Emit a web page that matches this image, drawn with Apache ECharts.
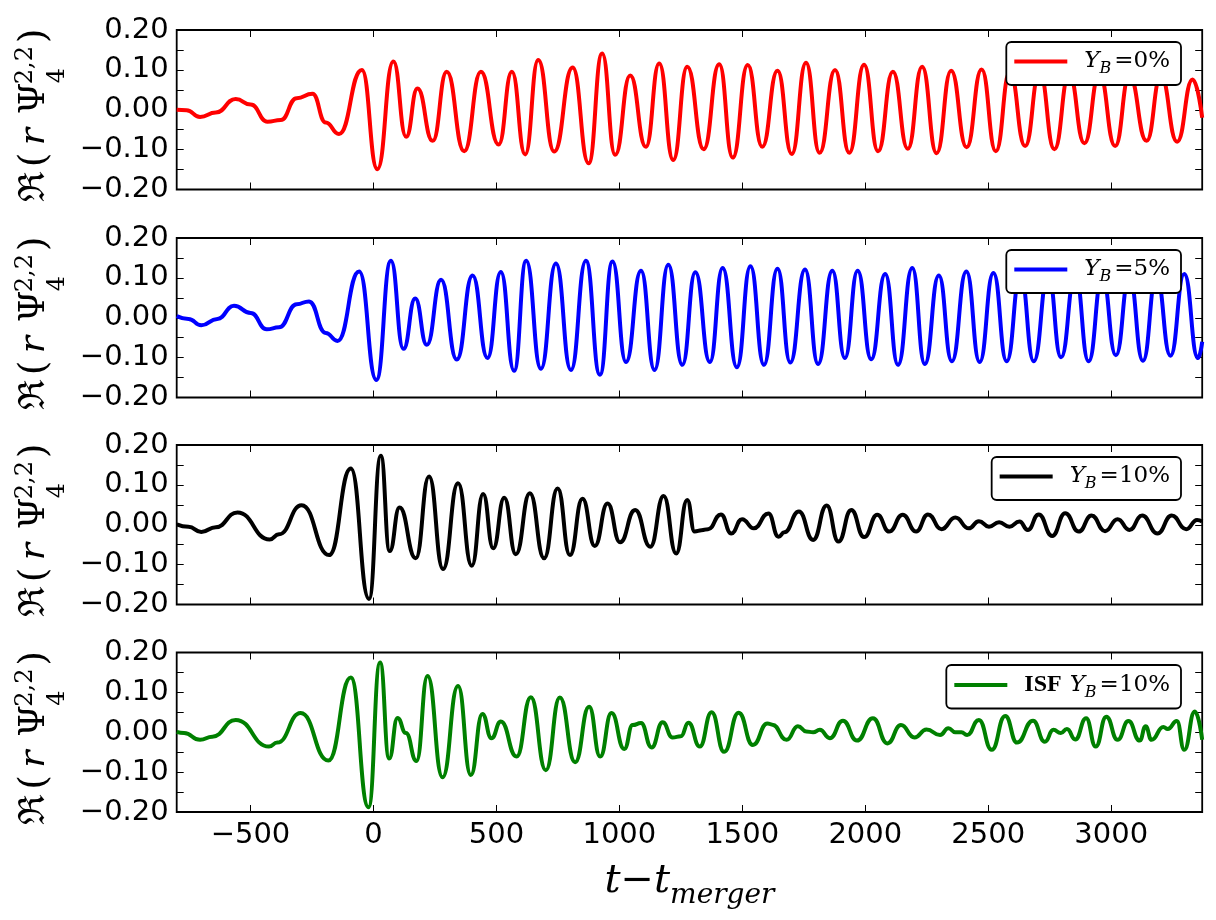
<!DOCTYPE html>
<html>
<head>
<meta charset="utf-8">
<script src="https://cdn.jsdelivr.net/npm/echarts@6.0.0/dist/echarts.min.js"></script>
<style>
html,body{margin:0;padding:0;background:#fff;}
#chart{width:1216px;height:920px;}
</style>
</head>
<body>
<div id="chart"></div>
<script>
// ---------- DATA (extrema and shape points) ----------
const seriesNames = ['Y_B=0%', 'Y_B=5%', 'Y_B=10%', 'ISF Y_B=10%'];
const seriesColors = ['#ff0000', '#0000ff', '#000000', '#008000'];
const xTickValues = [-500, 0, 500, 1000, 1500, 2000, 2500, 3000];
const yTickLabelValues = [-0.2, -0.1, 0, 0.1, 0.2];

const yb0 = [
 [-800,0.000],[-760,-0.001],[-705,-0.018],[-641,-0.007],[-560,0.027],[-499,0.013],[-431,-0.030],[-377,-0.026],
 [-312,0.029],[-248,0.040],[-194,-0.032],[-140,-0.061],[-47,0.100],[16,-0.149],[81,0.121],[133,-0.068],
 [179,0.053],[241,-0.078],[298,0.095],[369,-0.104],[437,0.095],[509,-0.087],[563,0.095],[617,-0.112],
 [670,0.125],[735,-0.105],[810,0.106],[875,-0.134],[930,0.141],[983,-0.113],[1044,0.086],[1108,-0.093],
 [1162,0.116],[1219,-0.126],[1276,0.108],[1343,-0.099],[1406,0.114],[1461,-0.120],[1522,0.112],[1581,-0.093],
 [1643,0.098],[1701,-0.111],[1759,0.118],[1814,-0.108],[1877,0.100],[1935,-0.108],[1995,0.113],[2052,-0.104],
 [2112,0.095],[2173,-0.098],[2231,0.108],[2290,-0.109],[2349,0.098],[2412,-0.094],[2473,0.101],[2531,-0.104],
 [2588,0.095],[2650,-0.091],[2709,0.095],[2769,-0.099],[2829,0.090],[2891,-0.084],[2952,0.090],[3016,-0.091],
 [3074,0.085],[3144,-0.078],[3202,0.085],[3268,-0.080],[3331,0.076],[3370,-0.020]
];

const yb5 = [
 [-800,0.004],[-752,-0.003],[-700,-0.019],[-635,-0.003],[-567,0.030],[-499,0.012],[-434,-0.029],[-384,-0.024],
 [-312,0.034],[-262,0.041],[-194,-0.038],[-146,-0.058],[-58,0.116],[12,-0.156],[71,0.143],[122,-0.078],
 [170,0.048],[217,-0.068],[275,0.095],[339,-0.105],[403,0.106],[464,-0.101],[518,0.115],[572,-0.133],
 [621,0.143],[681,-0.128],[742,0.136],[803,-0.131],[864,0.143],[921,-0.143],[972,0.141],[1027,-0.111],
 [1088,0.118],[1143,-0.131],[1199,0.133],[1256,-0.118],[1309,0.114],[1368,-0.111],[1420,0.125],[1478,-0.124],
 [1533,0.129],[1588,-0.118],[1643,0.123],[1695,-0.112],[1755,0.121],[1808,-0.116],[1866,0.118],[1917,-0.101],
 [1969,0.118],[2024,-0.104],[2081,0.110],[2133,-0.118],[2191,0.125],[2242,-0.116],[2299,0.106],[2352,-0.109],
 [2411,0.116],[2465,-0.111],[2521,0.112],[2575,-0.109],[2631,0.110],[2685,-0.109],[2744,0.110],[2796,-0.099],
 [2854,0.110],[2908,-0.109],[2964,0.105],[3019,-0.094],[3074,0.105],[3129,-0.108],[3184,0.105],[3241,-0.095],
 [3297,0.110],[3353,-0.101],[3370,-0.060]
];

const yb10 = [
 [-800,0.001],[-752,-0.005],[-700,-0.018],[-641,-0.006],[-553,0.031],[-422,-0.037],[-384,-0.024],[-292,0.049],
 [-180,-0.076],[-92,0.141],[-18,-0.186],[30,0.173],[66,-0.066],[106,0.043],[172,-0.084],[226,0.121],
 [283,-0.111],[344,0.104],[400,-0.103],[446,0.077],[487,-0.059],[532,0.068],[579,-0.074],[636,0.079],
 [694,-0.084],[749,0.091],[799,-0.076],[850,0.065],[900,-0.053],[952,0.053],[1003,-0.044],[1064,0.037],
 [1126,-0.055],[1180,0.072],[1231,-0.072],[1276,0.062],[1306,-0.017],[1334,-0.014],[1361,-0.011],[1413,0.026],
 [1455,-0.022],[1499,0.014],[1547,-0.009],[1606,0.028],[1647,-0.030],[1671,-0.019],[1730,0.033],[1788,-0.038],
 [1843,0.048],[1891,-0.042],[1943,0.037],[1995,-0.031],[2049,0.025],[2097,-0.017],[2152,0.025],[2207,-0.017],
 [2255,0.026],[2310,-0.011],[2366,0.018],[2421,-0.009],[2462,0.009],[2503,-0.005],[2544,0.006],[2586,-0.005],
 [2627,0.008],[2661,-0.013],[2705,0.026],[2760,-0.028],[2813,0.029],[2868,-0.017],[2920,0.023],[2975,-0.016],
 [3026,0.014],[3074,-0.013],[3126,0.023],[3188,-0.022],[3246,0.023],[3305,-0.011],[3349,0.012],[3370,0.008]
];

const isf10 = [
 [-800,0.001],[-770,-0.002],[-705,-0.019],[-655,-0.011],[-560,0.031],[-425,-0.036],[-391,-0.026],[-296,0.048],
 [-183,-0.071],[-92,0.137],[-20,-0.188],[27,0.175],[64,-0.066],[98,0.036],[132,-0.002],[175,-0.072],
 [220,0.141],[281,-0.113],[344,0.116],[396,-0.107],[443,0.046],[480,-0.015],[518,0.027],[582,-0.061],
 [640,0.088],[701,-0.095],[758,0.087],[820,-0.075],[877,0.064],[922,-0.061],[968,0.048],[1020,-0.042],
 [1054,0.018],[1088,0.023],[1131,-0.038],[1176,0.025],[1216,-0.013],[1250,-0.010],[1281,0.024],[1327,-0.036],
 [1375,0.050],[1426,-0.049],[1485,0.049],[1543,-0.032],[1602,0.022],[1622,0.019],[1680,-0.019],[1726,0.015],
 [1760,0.002],[1788,0.000],[1815,0.006],[1856,-0.015],[1909,0.029],[1966,-0.021],[2031,0.035],[2090,-0.028],
 [2145,0.018],[2200,-0.013],[2249,0.007],[2304,-0.007],[2338,0.010],[2366,0.000],[2391,0.000],[2414,-0.007],
 [2462,0.031],[2514,-0.044],[2569,0.041],[2617,-0.026],[2682,0.029],[2730,-0.024],[2765,0.006],[2795,-0.002],
 [2820,0.008],[2854,-0.018],[2898,0.035],[2937,-0.036],[2980,0.039],[3026,-0.019],[3070,0.028],[3116,-0.021],
 [3140,0.015],[3164,-0.019],[3212,0.013],[3230,0.008],[3267,0.028],[3297,-0.044],[3340,0.052],[3370,-0.019]
];

const seriesData = [yb0, yb5, yb10, isf10];

// ---------- LAYOUT ----------
const X_MIN = -800, X_MAX = 3370;
const GRID_LEFT = 176.7, GRID_W = 1025.5, GRID_H = 159.5;
const GRID_TOPS = [30, 238, 445, 652.5];
const LEGEND_TOPS = [42, 250, 457, 665];

const minus = '\u2212';
const fmtX = v => (v < 0 ? minus + Math.abs(v) : String(v));
const fmtY = v => (v < 0 ? minus : '') + Math.abs(v).toFixed(2);

const tickStyle = {inside: true, length: 7, lineStyle: {color: '#000', width: 1}};
const labelFont = {fontFamily: "'DejaVu Sans', sans-serif", fontSize: 29, color: '#000'};
const noLine = {show: false, onZero: false};

const grids = [], xAxes = [], yAxes = [], series = [], legends = [];
const serif = "'DejaVu Serif', serif";

GRID_TOPS.forEach((top, i) => {
  grids.push({left: GRID_LEFT, top: top, width: GRID_W, height: GRID_H, show: true,
    borderColor: '#000', borderWidth: 1.8, backgroundColor: 'transparent', containLabel: false});
  // bottom x axis
  xAxes.push({type: 'value', gridIndex: i, min: X_MIN, max: X_MAX, position: 'bottom',
    axisLine: noLine, splitLine: {show: false},
    axisTick: Object.assign({customValues: xTickValues}, tickStyle),
    axisLabel: Object.assign({show: i === 3, customValues: xTickValues, formatter: fmtX, margin: 9}, labelFont),
    name: i === 3 ? '{t|t}{m|\u2212}{t|t}{s|merger}' : '',
    nameLocation: 'middle', nameGap: 50,
    nameTextStyle: {rich: {
      t: {fontFamily: serif, fontStyle: 'italic', fontSize: 40, color: '#000', lineHeight: 48, verticalAlign: 'top'},
      m: {fontFamily: serif, fontSize: 40, color: '#000', lineHeight: 48, verticalAlign: 'top'},
      s: {fontFamily: serif, fontStyle: 'italic', fontSize: 28, color: '#000', verticalAlign: 'bottom'}
    }}
  });
  // top x axis (ticks only)
  xAxes.push({type: 'value', gridIndex: i, min: X_MIN, max: X_MAX, position: 'top',
    axisLine: noLine, splitLine: {show: false},
    axisTick: Object.assign({customValues: xTickValues}, tickStyle),
    axisLabel: {show: false}});
  // left y axis
  yAxes.push({type: 'value', gridIndex: i, min: -0.2, max: 0.2, interval: 0.05, position: 'left',
    axisLine: noLine, splitLine: {show: false},
    axisTick: tickStyle,
    axisLabel: Object.assign({customValues: yTickLabelValues, formatter: fmtY, margin: 8}, labelFont)});
  // right y axis (ticks only)
  yAxes.push({type: 'value', gridIndex: i, min: -0.2, max: 0.2, interval: 0.05, position: 'right',
    axisLine: noLine, splitLine: {show: false},
    axisTick: tickStyle, axisLabel: {show: false}});

  series.push({type: 'line', name: seriesNames[i], data: seriesData[i],
    xAxisIndex: i * 2, yAxisIndex: i * 2, smooth: 0.5, smoothMonotone: 'x',
    symbol: 'none', showSymbol: false, clip: true, z: 2,
    lineStyle: {color: seriesColors[i], width: 4}, itemStyle: {color: seriesColors[i]}});

  const isISF = i === 3;
  legends.push({data: [seriesNames[i]], right: 35, top: LEGEND_TOPS[i], orient: 'horizontal',
    icon: 'rect', itemWidth: 53, itemHeight: 4, selectedMode: false,
    itemStyle: {color: seriesColors[i], borderWidth: 0},
    padding: [8, 11, 8, 8], backgroundColor: '#fff', borderColor: '#000', borderWidth: 1.8, borderRadius: 5,
    z: 10,
    formatter: name => {
      const pct = name.replace(/^.*=/, '');
      return (isISF ? '{sp|}{b|ISF}{g|}' : '{sp|}') + '{i|Y}{s|B}{g2|}{n|=' + pct + '}';
    },
    textStyle: {rich: {
      sp: {width: 12},
      g: {width: 8},
      g2: {width: 3},
      b: {fontFamily: "'Liberation Serif', serif", fontWeight: 'bold', fontSize: 24, color: '#000', lineHeight: 31},
      i: {fontFamily: serif, fontStyle: 'italic', fontSize: 23, color: '#000', lineHeight: 31},
      s: {fontFamily: serif, fontStyle: 'italic', fontSize: 16, color: '#000', verticalAlign: 'bottom'},
      n: {fontFamily: serif, fontSize: 23, color: '#000', lineHeight: 31}
    }}
  });
});

// ---------- Y-axis title (math-like, rotated) ----------
// pieces placed along the (rotated) baseline: [text, size, style, offset along text, offset across]
const yTitlePieces = [
  ['\u211C', 36, 'normal', 0, 0],
  ['(', 38, 'normal', 35, 0],
  ['r', 36, 'italic', 57, 0],
  ['\u03A8', 36, 'normal', 88, 0],
  ['2,2', 24, 'normal', 118, -9],
  ['4', 24, 'normal', 119, 23],
  [')', 38, 'normal', 159, 0]
];
const Y_TITLE_LEN = 173;

function yTitle(cy) {
  const items = yTitlePieces.map(p => ({type: 'text', x: p[3], y: p[4],
    style: {text: p[0], font: p[2] + ' ' + p[1] + 'px ' + serif, fill: '#000', align: 'left', verticalAlign: 'middle'}}));
  return {type: 'group', x: 35, y: cy + Y_TITLE_LEN / 2, rotation: Math.PI / 2, children: items};
}

const graphics = GRID_TOPS.map(t => yTitle(t + GRID_H / 2 + 6));

const chart = echarts.init(document.getElementById('chart'), null, {renderer: 'canvas'});
chart.setOption({
  animation: false,
  backgroundColor: '#fff',
  grid: grids,
  xAxis: xAxes,
  yAxis: yAxes,
  legend: legends,
  series: series,
  graphic: graphics
});
</script>
</body>
</html>
